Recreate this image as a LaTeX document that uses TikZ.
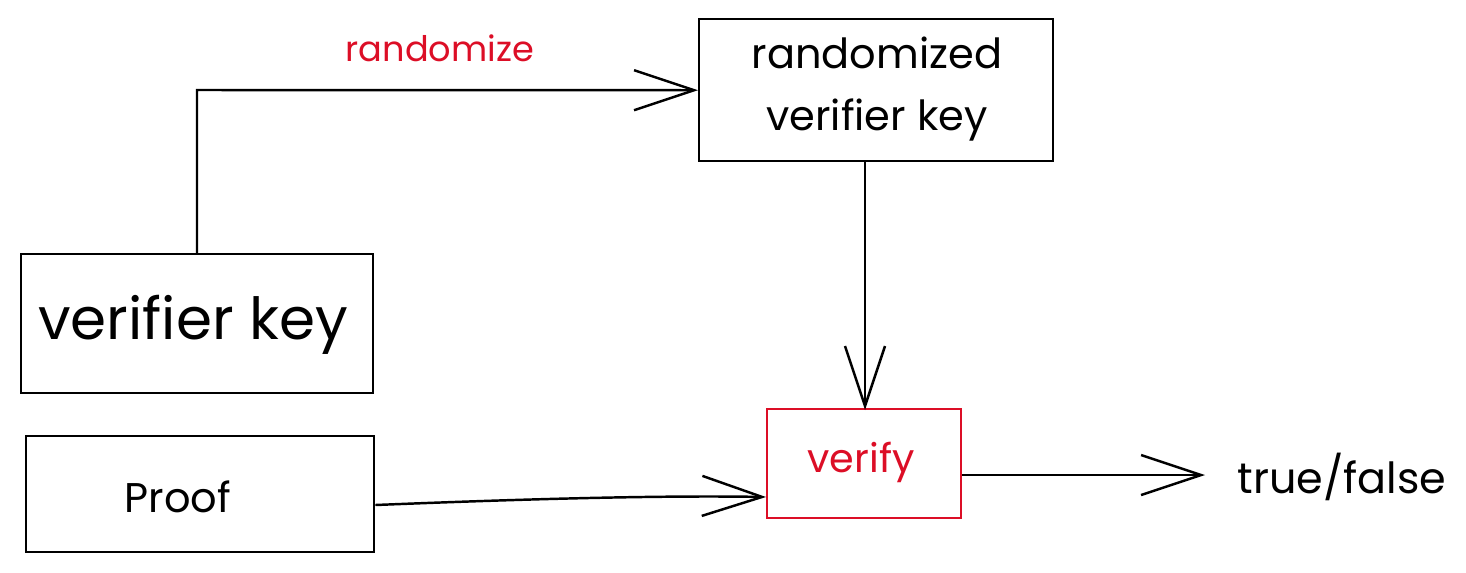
\documentclass[tikz,border=0pt]{standalone}
\usepackage{fontspec}
\setmainfont{Poppins}
\usetikzlibrary{arrows.meta}
\definecolor{exred}{RGB}{220,14,38}
\tikzset{
  box/.style={draw=black, line width=0.7pt, inner sep=0pt, anchor=north west},
  redbox/.style={draw=exred, line width=0.7pt, inner sep=0pt, anchor=north west},
  conn/.style={draw=black, line width=0.7pt, -{Straight Barb[length=6mm,width=4mm,line width=0.7pt]}},
  lbl/.style={inner sep=0pt, align=center}
}
\begin{document}
\begin{tikzpicture}[x=0.01cm,y=-0.01cm]
\useasboundingbox (0,0) rectangle (1466,572);
% boxes
\node[box, minimum width=354*0.01cm, minimum height=142*0.01cm] (rvk) at (698,18) {};
\node[box, minimum width=352*0.01cm, minimum height=139*0.01cm] (vk) at (20,253) {};
\node[box, minimum width=348*0.01cm, minimum height=116*0.01cm] (pf) at (25,435) {};
\node[redbox, minimum width=194*0.01cm, minimum height=109*0.01cm] (vf) at (766,408) {};
% texts
\node[lbl, font=\fontsize{11.8pt}{17.5pt}\selectfont] (rvkt) at (877,89) {randomized\\verifier key};
\node[lbl, font=\fontsize{16.5pt}{19pt}\selectfont] (vkt) at (193,325) {verifier key};
\node[lbl, font=\fontsize{11.8pt}{14pt}\selectfont] (pft) at (178,497) {Proof};
\node[lbl, font=\fontsize{11.3pt}{14pt}\selectfont, text=exred] (vft) at (861,462) {verify};
\node[lbl, font=\fontsize{12.2pt}{14pt}\selectfont] (tf) at (1342,477) {true/false};
\node[lbl, font=\fontsize{10pt}{12pt}\selectfont, text=exred] (rz) at (440,48) {randomize};
% connectors
\coordinate (c1) at (197,90);
\draw[conn] (vk.north -| c1) -- (c1) -- (rvk.west);
\draw[conn] (rvk.south -| 865,0) -- (865,410);
\draw[conn] (pf.east |- 0,505) .. controls (500,500) and (650,495) .. (vf.west |- 0,497);
\coordinate (tfin) at (1205,475);
\draw[conn] (vf.east |- tfin) -- (tfin);
\end{tikzpicture}
\end{document}
